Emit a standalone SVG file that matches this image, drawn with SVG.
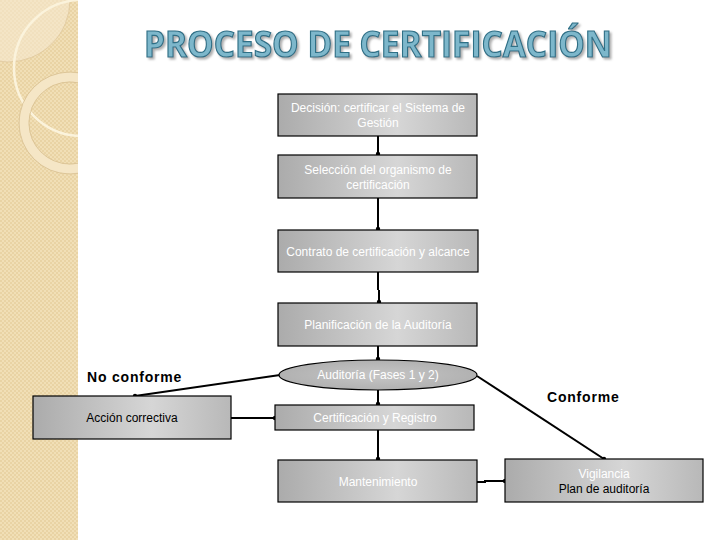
<svg xmlns="http://www.w3.org/2000/svg" width="720" height="540" viewBox="0 0 720 540">
<defs>
<pattern id="chk" width="4" height="4" patternUnits="userSpaceOnUse">
<rect width="4" height="4" fill="#f1dfb6"/>
<rect width="2" height="2" fill="#e9d3a4"/>
<rect x="2" y="2" width="2" height="2" fill="#e9d3a4"/>
</pattern>
<clipPath id="strip"><rect x="0" y="0" width="78" height="540"/></clipPath>
<linearGradient id="box" x1="0" y1="0" x2="1" y2="0">
<stop offset="0" stop-color="#ababab"/>
<stop offset="0.6" stop-color="#d6d6d6"/>
<stop offset="1" stop-color="#b8b8b8"/>
</linearGradient>
<radialGradient id="ell" cx="0.5" cy="0.5" r="0.6">
<stop offset="0" stop-color="#c6c6c6"/>
<stop offset="1" stop-color="#adadad"/>
</radialGradient>
<filter id="sh" x="-5%" y="-20%" width="110%" height="150%">
<feDropShadow dx="2" dy="2" stdDeviation="0.8" flood-color="#9a9a9a" flood-opacity="0.8"/>
</filter>
<marker id="dot" markerWidth="6" markerHeight="6" refX="3" refY="3" markerUnits="userSpaceOnUse">
<circle cx="3" cy="3" r="2.2" fill="#000"/>
</marker>
</defs>
<style>
.bx{fill:url(#box);stroke:#000;stroke-width:1.2}
.t{font-family:"Liberation Sans",Arial,sans-serif;font-size:12px;text-anchor:middle;fill:#fff}
.tb{font-family:"Liberation Sans",Arial,sans-serif;font-size:12px;text-anchor:middle;fill:#000}
.lbl{font-family:"Liberation Sans",Arial,sans-serif;font-size:14px;font-weight:bold;fill:#000;letter-spacing:0.8px}
.c{fill:none;stroke:#000;stroke-width:2;marker-end:url(#dot)}
</style>
<rect width="720" height="540" fill="#fff"/>
<g id="strip-bg" clip-path="url(#strip)">
<rect x="0" y="0" width="78" height="540" fill="url(#chk)"/>
<circle cx="8" cy="0" r="62" fill="#f7ead0" opacity="0.6"/>
<circle cx="8" cy="0" r="62" fill="none" stroke="#dcc49a" stroke-width="0.7"/>
<circle cx="82" cy="68" r="68" fill="none" stroke="#fbf3dc" stroke-width="2.5"/>
<circle cx="70" cy="123" r="46" fill="none" stroke="#f5e6c6" stroke-width="9"/>
<circle cx="70" cy="123" r="51" fill="none" stroke="#d8c093" stroke-width="0.8"/>
<circle cx="70" cy="123" r="41" fill="none" stroke="#d8c093" stroke-width="0.8"/>
</g>
<text x="378" y="57" font-family="'Open Sans','Noto Sans',sans-serif" font-size="36" font-weight="bold" text-anchor="middle" textLength="468" lengthAdjust="spacingAndGlyphs" fill="#7db7cb" stroke="#2f6f86" stroke-width="1.2" filter="url(#sh)">PROCESO DE CERTIFICACIÓN</text>
<g id="connectors">
<path class="c" d="M378 136 V154"/>
<path class="c" d="M378 198 V229"/>
<path class="c" d="M378 272 V290 M379 290 V302"/>
<path class="c" d="M378 346 V359"/>
<path class="c" d="M378 390 V404"/>
<path class="c" d="M378 430 V459"/>
<path class="c" d="M280 375 L135 396"/>
<path class="c" d="M231 418 L275 418"/>
<path class="c" d="M477 376 L604 459"/>
<path class="c" d="M477 482 L485 482 L485 481 L505 481"/>
</g>
<g id="n1"><rect class="bx" x="278" y="94" width="199" height="42"/><text class="t" x="378" y="112">Decisión: certificar el Sistema de</text><text class="t" x="378" y="127">Gestión</text></g>
<g id="n2"><rect class="bx" x="278" y="155" width="199" height="43"/><text class="t" x="378" y="174">Selección del organismo de</text><text class="t" x="378" y="189">certificación</text></g>
<g id="n3"><rect class="bx" x="278" y="230" width="200" height="42"/><text class="t" x="378" y="256">Contrato de certificación y alcance</text></g>
<g id="n4"><rect class="bx" x="278" y="303" width="199" height="43"/><text class="t" x="378" y="329">Planificación de la Auditoría</text></g>
<g id="n5"><ellipse cx="378" cy="375" rx="99" ry="15" fill="url(#ell)" stroke="#000" stroke-width="1.2"/><text class="t" x="378" y="379">Auditoría (Fases 1 y 2)</text></g>
<g id="n6"><rect class="bx" x="275" y="405" width="199" height="25"/><text class="t" x="375" y="422">Certificación y Registro</text></g>
<g id="n7"><rect class="bx" x="33" y="396" width="198" height="43"/><text class="tb" x="132" y="422">Acción correctiva</text></g>
<g id="n8"><rect class="bx" x="278" y="460" width="199" height="42"/><text class="t" x="378" y="486">Mantenimiento</text></g>
<g id="n9"><rect class="bx" x="505" y="459" width="198" height="43"/><text class="t" x="604" y="478">Vigilancia</text><text class="tb" x="604" y="493">Plan de auditoría</text></g>
<text class="lbl" x="87" y="382">No conforme</text>
<text class="lbl" x="547" y="402">Conforme</text>
</svg>
